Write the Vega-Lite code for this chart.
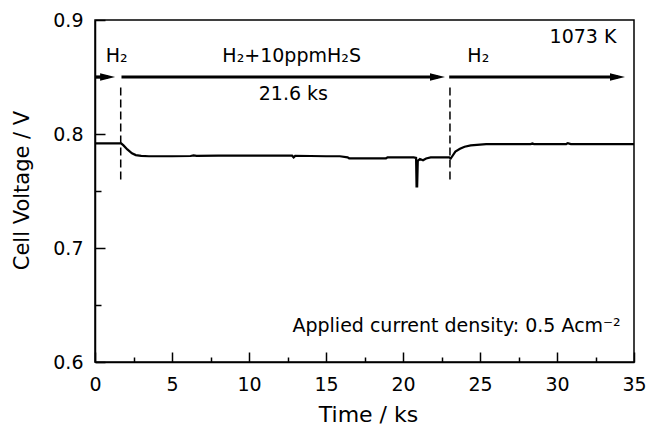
{
  "$schema": "https://vega.github.io/schema/vega-lite/v6.json",
  "width": 539,
  "height": 342,
  "autosize": {"type": "none"},
  "padding": {"left": 95, "top": 20, "right": 15, "bottom": 63},
  "background": "white",
  "config": {
    "view": {"stroke": "black", "strokeWidth": 1.5},
    "font": "DejaVu Sans",
    "axis": {
      "grid": false,
      "domainColor": "black",
      "domainWidth": 1.5,
      "tickColor": "black",
      "tickWidth": 1.5,
      "labelColor": "black",
      "labelFont": "DejaVu Sans",
      "labelFontSize": 19,
      "labelFlush": false,
      "labelOverlap": false,
      "titleFont": "DejaVu Sans",
      "titleFontWeight": "normal",
      "titleColor": "black"
    }
  },
  "datasets": {
    "voltage": [
      {"t": 0, "v": 0.7918},
      {"t": 1.7, "v": 0.7918},
      {"t": 1.85, "v": 0.790},
      {"t": 2.1, "v": 0.7865},
      {"t": 2.4, "v": 0.783},
      {"t": 2.65, "v": 0.7815},
      {"t": 3.0, "v": 0.7808},
      {"t": 3.5, "v": 0.7805},
      {"t": 5.0, "v": 0.7805},
      {"t": 6.2, "v": 0.7807},
      {"t": 6.4, "v": 0.7812},
      {"t": 6.6, "v": 0.7808},
      {"t": 8.0, "v": 0.781},
      {"t": 10.0, "v": 0.781},
      {"t": 12.8, "v": 0.781},
      {"t": 12.9, "v": 0.7795},
      {"t": 13.0, "v": 0.7808},
      {"t": 14.0, "v": 0.7807},
      {"t": 15.0, "v": 0.7805},
      {"t": 15.9, "v": 0.7805},
      {"t": 16.4, "v": 0.7795},
      {"t": 16.5, "v": 0.7787},
      {"t": 18.9, "v": 0.7787},
      {"t": 19.0, "v": 0.7795},
      {"t": 20.7, "v": 0.7795},
      {"t": 20.85, "v": 0.779},
      {"t": 20.88, "v": 0.754},
      {"t": 20.92, "v": 0.754},
      {"t": 20.96, "v": 0.7765},
      {"t": 21.1, "v": 0.778},
      {"t": 21.3, "v": 0.777},
      {"t": 21.5, "v": 0.7785},
      {"t": 21.8, "v": 0.7795},
      {"t": 23.0, "v": 0.7795},
      {"t": 23.1, "v": 0.7785},
      {"t": 23.4, "v": 0.7845},
      {"t": 23.7, "v": 0.787},
      {"t": 24.0, "v": 0.7888},
      {"t": 24.4, "v": 0.790},
      {"t": 25.4, "v": 0.7912},
      {"t": 28.3, "v": 0.7912},
      {"t": 28.4, "v": 0.7918},
      {"t": 28.5, "v": 0.7912},
      {"t": 30.6, "v": 0.7912},
      {"t": 30.7, "v": 0.792},
      {"t": 30.9, "v": 0.7912},
      {"t": 35, "v": 0.7912}
    ],
    "switches": [
      {"t": 1.67, "v1": 0.760, "v2": 0.843},
      {"t": 23.05, "v1": 0.760, "v2": 0.843}
    ],
    "shafts": [
      {"t1": 0, "t2": 0.85, "v": 0.85},
      {"t1": 1.72, "t2": 22.26, "v": 0.85},
      {"t1": 23.0, "t2": 33.95, "v": 0.85}
    ],
    "heads": [
      {"t": 0.82, "v": 0.85},
      {"t": 22.24, "v": 0.85},
      {"t": 33.93, "v": 0.85}
    ],
    "labels": [
      {"t": 1.41, "v": 0.8634, "text": "H₂"},
      {"t": 12.77, "v": 0.8634, "text": "H₂+10ppmH₂S"},
      {"t": 12.88, "v": 0.8298, "text": "21.6 ks"},
      {"t": 24.89, "v": 0.8634, "text": "H₂"},
      {"t": 31.69, "v": 0.8795, "text": "1073 K"},
      {"t": 23.48, "v": 0.6266, "text": "Applied current density: 0.5 Acm⁻²"}
    ]
  },
  "layer": [
    {
      "data": {"name": "voltage"},
      "mark": {"type": "line", "color": "black", "strokeWidth": 2.2, "clip": true},
      "encoding": {
        "x": {
          "field": "t", "type": "quantitative",
          "scale": {"domain": [0, 35], "nice": false, "zero": false},
          "axis": {
            "orient": "bottom",
            "values": [0, 5, 10, 15, 20, 25, 30, 35],
            "tickSize": -10,
            "labelPadding": 23,
            "title": "Time / ks",
            "titleFontSize": 22,
            "titleBaseline": "alphabetic",
            "titleY": 59,
            "titleX": 273
          }
        },
        "y": {
          "field": "v", "type": "quantitative",
          "scale": {"domain": [0.6, 0.9], "nice": false, "zero": false},
          "axis": {
            "orient": "left",
            "values": [0.6, 0.7, 0.8, 0.9],
            "format": ".1f",
            "tickSize": -10,
            "labelPadding": 22,
            "title": "Cell Voltage / V",
            "titleFontSize": 21,
            "titleBaseline": "alphabetic",
            "titleAngle": -90,
            "titleX": -67,
            "titleY": 170
          }
        }
      }
    },
    {
      "data": {"name": "switches"},
      "mark": {"type": "rule", "color": "black", "strokeWidth": 1.5, "strokeDash": [8, 4]},
      "encoding": {
        "x": {
          "field": "t", "type": "quantitative",
          "axis": {
            "orient": "bottom",
            "values": [2.5, 7.5, 12.5, 17.5, 22.5, 27.5, 32.5],
            "tickSize": -5,
            "labels": false,
            "domain": false,
            "title": null
          }
        },
        "y": {
          "field": "v1", "type": "quantitative",
          "axis": {
            "orient": "left",
            "values": [0.65, 0.75, 0.85],
            "tickSize": -6,
            "labels": false,
            "domain": false,
            "title": null
          }
        },
        "y2": {"field": "v2"}
      }
    },
    {
      "data": {"name": "shafts"},
      "mark": {"type": "rule", "color": "black", "strokeWidth": 3.2},
      "encoding": {
        "x": {"field": "t1", "type": "quantitative", "axis": null},
        "x2": {"field": "t2"},
        "y": {"field": "v", "type": "quantitative", "axis": null}
      }
    },
    {
      "data": {"name": "heads"},
      "mark": {"type": "point", "shape": "M-1,-0.5L1,0L-1,0.5Z", "filled": true, "color": "black", "opacity": 1, "size": 225, "strokeWidth": 0},
      "encoding": {
        "x": {"field": "t", "type": "quantitative", "axis": null},
        "y": {"field": "v", "type": "quantitative", "axis": null}
      }
    },
    {
      "data": {"name": "labels"},
      "mark": {"type": "text", "font": "DejaVu Sans", "fontSize": 19, "color": "black", "align": "center", "baseline": "alphabetic"},
      "encoding": {
        "x": {"field": "t", "type": "quantitative", "axis": null},
        "y": {"field": "v", "type": "quantitative", "axis": null},
        "text": {"field": "text"}
      }
    }
  ],
  "resolve": {"axis": {"x": "independent", "y": "independent"}}
}
